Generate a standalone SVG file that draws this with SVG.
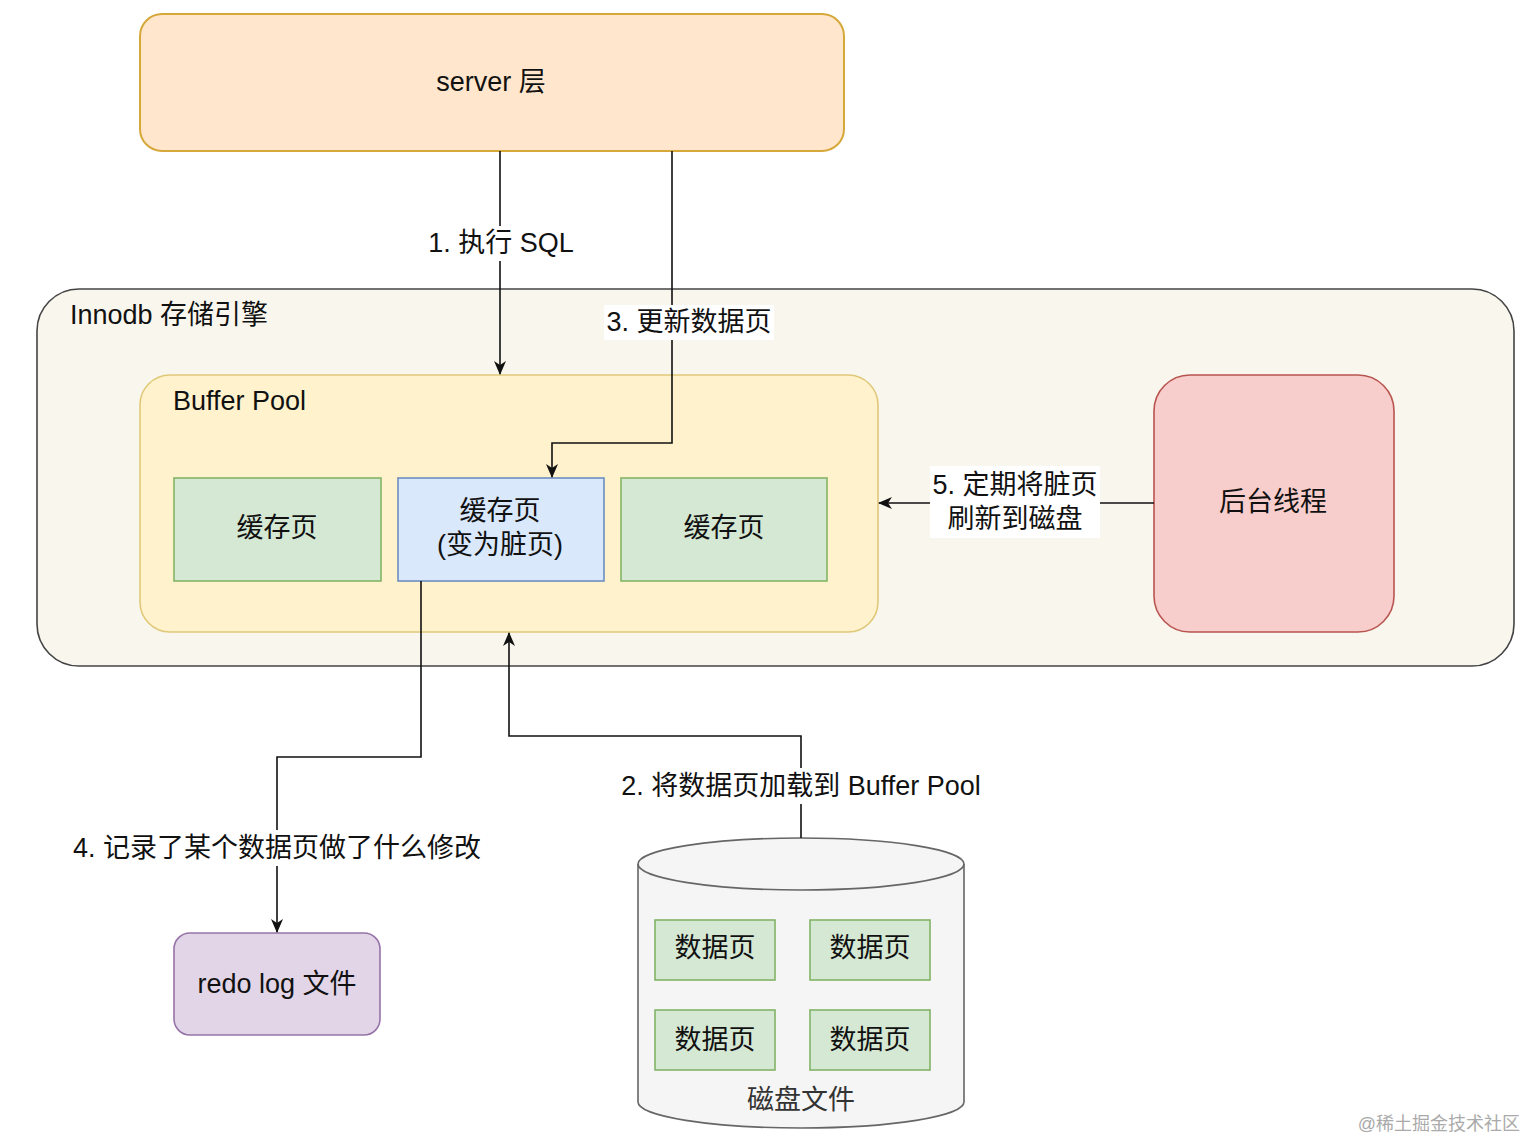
<svg xmlns="http://www.w3.org/2000/svg" width="1528" height="1140" viewBox="0 0 1528 1140">
<style>
text{font-family:"Liberation Sans","Noto Sans CJK SC",sans-serif;font-size:27px;fill:#111;text-anchor:middle}
.lbl{fill:#fff}
.edge{fill:none;stroke:#111;stroke-width:1.6}
.green{fill:#d5e8d4;stroke:#82b366;stroke-width:1.6}
</style>
<defs>
<marker id="arr" markerUnits="userSpaceOnUse" markerWidth="14" markerHeight="12" refX="13" refY="6" orient="auto">
<path d="M0,0 L14,6 L0,12 L4,6 Z" fill="#111"/>
</marker>
</defs>
<rect width="1528" height="1140" fill="#fff"/>
<g id="server">
<rect x="140" y="14" width="704" height="137" rx="22" fill="#ffe6cc" stroke="#d6a83a" stroke-width="2"/>
<text x="491" y="91">server 层</text>
</g>
<g id="innodb">
<rect x="37" y="289" width="1477" height="377" rx="42" fill="#f9f7ed" stroke="#444" stroke-width="1.6"/>
<text x="70" y="324" style="text-anchor:start">Innodb 存储引擎</text>
</g>
<g id="bufferpool">
<rect x="140" y="375" width="738" height="257" rx="30" fill="#fff2cc" stroke="#e0c879" stroke-width="1.6"/>
<text x="173" y="410" style="text-anchor:start">Buffer Pool</text>
</g>
<g id="cache1">
<rect class="green" x="174" y="478" width="207" height="103"/>
<text x="277" y="537">缓存页</text>
</g>
<g id="cache2">
<rect x="398" y="478" width="206" height="103" fill="#dae8fc" stroke="#6c8ebf" stroke-width="1.6"/>
<text x="500" y="520">缓存页</text>
<text x="500" y="554">(变为脏页)</text>
</g>
<g id="cache3">
<rect class="green" x="621" y="478" width="206" height="103"/>
<text x="724" y="537">缓存页</text>
</g>
<g id="bgthread">
<rect x="1154" y="375" width="240" height="257" rx="36" fill="#f8cecc" stroke="#b85450" stroke-width="1.6"/>
<text x="1273" y="511">后台线程</text>
</g>
<g id="redolog">
<rect x="174" y="933" width="206" height="102" rx="16" fill="#e1d5e7" stroke="#9673a6" stroke-width="1.6"/>
<text x="277" y="993">redo log 文件</text>
</g>
<g id="disk">
<path d="M638,864 A163,26 0 0 1 964,864 V1102 A163,26 0 0 1 638,1102 Z" fill="#f5f5f5" stroke="#666" stroke-width="1.6"/>
<path d="M638,864 A163,26 0 0 0 964,864" fill="none" stroke="#666" stroke-width="1.6"/>
<rect class="green" x="655" y="920" width="120" height="60"/>
<text x="715" y="957">数据页</text>
<rect class="green" x="810" y="920" width="120" height="60"/>
<text x="870" y="957">数据页</text>
<rect class="green" x="655" y="1010" width="120" height="60"/>
<text x="715" y="1049">数据页</text>
<rect class="green" x="810" y="1010" width="120" height="60"/>
<text x="870" y="1049">数据页</text>
<text x="801" y="1109" style="fill:#333">磁盘文件</text>
</g>
<g id="connectors">
<path class="edge" d="M500,151 V374" marker-end="url(#arr)"/>
<path class="edge" d="M672,151 V443 H552 V477" marker-end="url(#arr)"/>
<path class="edge" d="M421,581 V757 H277 V932" marker-end="url(#arr)"/>
<path class="edge" d="M801,838 V736 H509 V633" marker-end="url(#arr)"/>
<path class="edge" d="M1154,503 H879" marker-end="url(#arr)"/>
<rect class="lbl" x="425" y="226" width="152" height="35"/>
<text x="501" y="252">1. 执行 SQL</text>
<rect class="lbl" x="604" y="305" width="170" height="35"/>
<text x="689" y="331">3. 更新数据页</text>
<rect class="lbl" x="930" y="466" width="170" height="72"/>
<text x="1015" y="494">5. 定期将脏页</text>
<text x="1015" y="528">刷新到磁盘</text>
<rect class="lbl" x="68" y="830" width="419" height="36"/>
<text x="277" y="857">4. 记录了某个数据页做了什么修改</text>
<rect class="lbl" x="616" y="768" width="370" height="36"/>
<text x="801" y="795">2. 将数据页加载到 Buffer Pool</text>
</g>
<text x="1520" y="1130" style="font-size:18px;fill:#aaa;text-anchor:end">@稀土掘金技术社区</text>
</svg>
